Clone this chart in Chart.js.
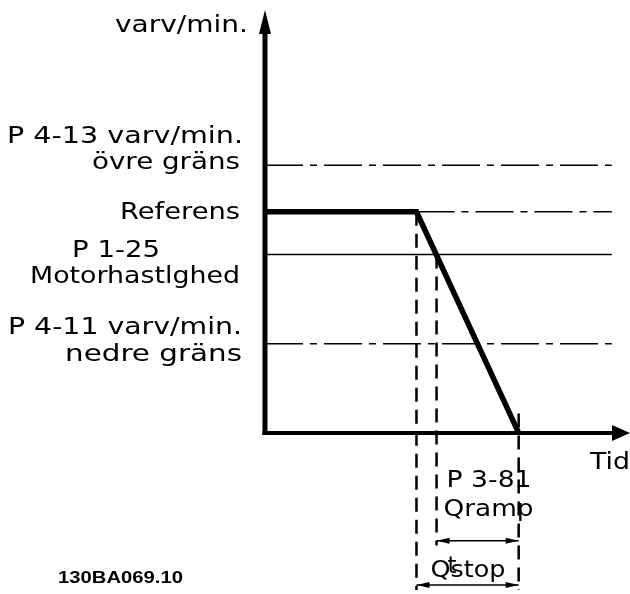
<!DOCTYPE html>
<html>
<head>
<meta charset="utf-8">
<script src="https://cdn.jsdelivr.net/npm/chart.js@4/dist/chart.umd.min.js"></script>
<style>
  html, body { margin: 0; padding: 0; background: #fff; }
  #wrap { width: 630px; height: 594px; }
</style>
</head>
<body>
<div id="wrap"><canvas id="chart" width="630" height="594"></canvas></div>
<script>
// speed profile (coast/quick stop ramp)
const rampTimes = [0, 4.15, 6.95];
const rampSpeeds = [57, 57, 0];

// horizontal levels: upper limit, reference, motor speed, lower limit
const levelValues = [69, 57, 46, 23];
const levelLabels = [
  ['P 4-13 varv/min.', 'övre gräns'],
  ['Referens'],
  ['P 1-25', 'Motorhastlghed'],
  ['P 4-11 varv/min.', 'nedre gräns']
];
const levelStyles = ['dashdot', 'dashdot', 'solid', 'dashdot'];

// time marks: ramp start, motor speed crossing, stop
const markTimes = [4.15, 4.7, 6.95];
const lineEnd = 9.5;

const axisTitles = ['varv/min.', 'Tid'];
const rampTexts = ['P 3-81', 'Qramp'];
const stopText = 'Qstop';
const figureId = '130BA069.10';

const X_MIN = 0, X_MAX = 10, Y_MIN = -41, Y_MAX = 109;
const DASHDOT = [38, 7, 7, 7];
const DASHED = [14, 8];
const FONT = '23px "DejaVu Sans", Verdana, sans-serif';

const datasets = [];

// thin level lines
levelValues.forEach((v, i) => {
  const startX = i === 1 ? markTimes[0] : 0;
  datasets.push({
    data: [{ x: startX, y: v }, { x: lineEnd, y: v }],
    borderColor: '#000',
    borderWidth: 1.6,
    borderDash: levelStyles[i] === 'dashdot' ? DASHDOT : [],
    pointRadius: 0,
    fill: false
  });
});

// vertical dashed guides
datasets.push({
  data: [{ x: markTimes[0], y: rampSpeeds[1] }, { x: markTimes[0], y: -40.5 }],
  borderColor: '#000', borderWidth: 2.5, borderDash: DASHED, pointRadius: 0
});
datasets.push({
  data: [{ x: markTimes[1], y: levelValues[2] }, { x: markTimes[1], y: -29 }],
  borderColor: '#000', borderWidth: 2.5, borderDash: DASHED, pointRadius: 0
});
datasets.push({
  data: [{ x: markTimes[2], y: 5 }, { x: markTimes[2], y: -40.5 }],
  borderColor: '#000', borderWidth: 2.5, borderDash: DASHED, pointRadius: 0
});

// the ramp itself, heavy
datasets.push({
  data: rampTimes.map((t, i) => ({ x: t, y: rampSpeeds[i] })),
  borderColor: '#000',
  borderWidth: 5.5,
  pointRadius: 0,
  borderCapStyle: 'butt',
  borderJoinStyle: 'miter',
  tension: 0
});

// text squeezed/stretched between left and right edge
function fitText(ctx, str, left, right, y, font) {
  ctx.save();
  ctx.font = font || FONT;
  ctx.textAlign = 'left';
  ctx.textBaseline = 'alphabetic';
  ctx.fillStyle = '#000';
  const w = ctx.measureText(str).width;
  ctx.translate(left, y);
  ctx.scale((right - left) / w, 1);
  ctx.fillText(str, 0, 0);
  ctx.restore();
}

function arrowHead(ctx, x, y, dir, len, half) {
  ctx.beginPath();
  ctx.moveTo(x, y);
  ctx.lineTo(x - dir * len, y - half);
  ctx.lineTo(x - dir * len, y + half);
  ctx.closePath();
  ctx.fill();
}

function dimension(ctx, x1, x2, y) {
  ctx.save();
  ctx.strokeStyle = '#000';
  ctx.fillStyle = '#000';
  ctx.lineWidth = 1.5;
  ctx.beginPath();
  ctx.moveTo(x1, y);
  ctx.lineTo(x2, y);
  ctx.stroke();
  arrowHead(ctx, x1, y, -1, 13, 3);
  arrowHead(ctx, x2, y, 1, 13, 3);
  ctx.restore();
}

const diagramPlugin = {
  id: 'diagram',
  afterDatasetsDraw(chart) {
    const ctx = chart.ctx;
    const xs = chart.scales.x, ys = chart.scales.y;
    const x0 = xs.getPixelForValue(0);
    const y0 = ys.getPixelForValue(0);
    const top = chart.chartArea.top;
    const right = chart.chartArea.right;

    ctx.save();
    ctx.strokeStyle = '#000';
    ctx.fillStyle = '#000';
    // y axis
    ctx.lineWidth = 5;
    ctx.beginPath();
    ctx.moveTo(x0, y0 + 2);
    ctx.lineTo(x0, top + 20);
    ctx.stroke();
    ctx.beginPath();
    ctx.moveTo(x0, top);
    ctx.lineTo(x0 - 6, top + 24);
    ctx.lineTo(x0 + 6, top + 24);
    ctx.closePath();
    ctx.fill();
    // x axis
    ctx.lineWidth = 4;
    ctx.beginPath();
    ctx.moveTo(x0 - 2.5, y0);
    ctx.lineTo(right - 15, y0);
    ctx.stroke();
    ctx.beginPath();
    ctx.moveTo(right, y0);
    ctx.lineTo(right - 18, y0 - 8);
    ctx.lineTo(right - 18, y0 + 8);
    ctx.closePath();
    ctx.fill();
    ctx.restore();

    // axis titles
    fitText(ctx, axisTitles[0], x0 - 150, x0 - 17, top + 22);
    fitText(ctx, axisTitles[1], right - 40, right, y0 + 36);

    // level labels
    const pyU = ys.getPixelForValue(levelValues[0]);
    fitText(ctx, levelLabels[0][0], x0 - 258, x0 - 22, pyU - 22);
    fitText(ctx, levelLabels[0][1], x0 - 173, x0 - 25, pyU + 4);
    const pyR = ys.getPixelForValue(levelValues[1]);
    fitText(ctx, levelLabels[1][0], x0 - 145, x0 - 25, pyR + 7);
    const pyM = ys.getPixelForValue(levelValues[2]);
    fitText(ctx, levelLabels[2][0], x0 - 193, x0 - 105, pyM + 3);
    fitText(ctx, levelLabels[2][1], x0 - 235, x0 - 25, pyM + 29);
    const pyL = ys.getPixelForValue(levelValues[3]);
    fitText(ctx, levelLabels[3][0], x0 - 257, x0 - 23, pyL - 10);
    fitText(ctx, levelLabels[3][1], x0 - 200, x0 - 23, pyL + 17);

    // dimension arrows under the time axis
    const xa = xs.getPixelForValue(markTimes[0]);
    const xm = xs.getPixelForValue(markTimes[1]);
    const xe = xs.getPixelForValue(markTimes[2]);
    const yRamp = ys.getPixelForValue(-27.8);
    const yStop = ys.getPixelForValue(-39.2);
    dimension(ctx, xm, xe, yRamp);
    dimension(ctx, xa, xe, yStop);

    fitText(ctx, rampTexts[0], xm + 10, xm + 95, y0 + 54);
    fitText(ctx, rampTexts[1], xm + 7, xm + 97, y0 + 83);
    fitText(ctx, stopText, xa + 14, xa + 89, yStop - 8);
    fitText(ctx, 't', xa + 31, xa + 40, yStop - 12);

    fitText(ctx, figureId, 58, 183, 583,
      'bold 17px "Liberation Sans", Arial, sans-serif');
  }
};

new Chart(document.getElementById('chart'), {
  type: 'line',
  data: { datasets },
  options: {
    responsive: false,
    animation: false,
    devicePixelRatio: 1,
    layout: { padding: { left: 265, right: 0, top: 10, bottom: 2 } },
    scales: {
      x: { type: 'linear', min: X_MIN, max: X_MAX, display: false },
      y: { type: 'linear', min: Y_MIN, max: Y_MAX, display: false }
    },
    datasets: { line: { clip: false } },
    plugins: {
      legend: { display: false },
      tooltip: { enabled: false }
    }
  },
  plugins: [diagramPlugin]
});
</script>
</body>
</html>
